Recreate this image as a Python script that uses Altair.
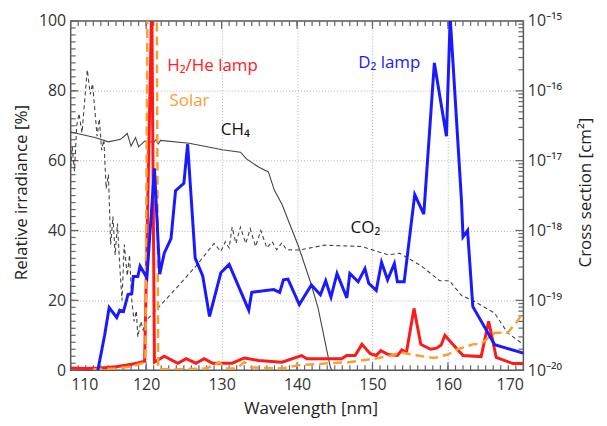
import altair as alt
import pandas as pd

# ---------------- data ----------------
# H2/He lamp (relative irradiance, %)
red_wl = [110, 112, 114, 116, 117.3, 118.8, 119.8, 120.75, 121.1, 122.4, 124.2, 125.3,
          126.6, 127.7, 128.8, 130.1, 131.4, 133.0, 134.9, 138.0, 140.6, 141.3, 145.9, 146.6,
          147.7, 148.6, 149.7, 150.5, 151.1, 152.1, 153.3, 153.9, 154.5, 155.5, 156.4, 157.7,
          158.5, 159.1, 159.6, 160.7, 162.0, 164.4, 165.4, 166.4, 168.6, 170.0]
red_val = [0.6, 0.5, 0.6, 1.0, 1.4, 2.0, 2.6, 106, 2.3, 4.0, 2.0, 3.3,
           2.0, 3.3, 2.0, 2.0, 2.0, 3.5, 2.8, 2.3, 4.2, 3.3, 3.3, 4.2,
           4.2, 7.4, 4.7, 4.2, 5.6, 4.5, 4.2, 5.8, 5.1, 17.7, 7.4, 6.0,
           6.3, 7.2, 10.0, 7.3, 4.2, 3.9, 14.0, 3.7, 1.9, 1.9]

# Solar (relative irradiance, %)
sol_wl = [113, 116, 118, 119.5, 119.9, 120.2, 121.4, 121.6, 122, 125, 128, 129.7, 130.5,
          132, 133, 134, 138, 140.2, 143.7, 146.8, 150.3, 152.5, 153.8, 154.7, 156,
          157.4, 158.2, 160, 161.3, 163.3, 164.4, 166.2, 167.9, 169.2, 170]
sol_val = [0.3, 0.5, 1.0, 2.0, 3.0, 110, 110, 0.5, 0.3, 0.3, 0.5, 2.3, 0.5,
           0.5, 2.3, 0.8, 0.5, 1.4, 1.9, 2.3, 3.3, 4.2, 5.1, 4.7, 4.2,
           3.7, 3.5, 4.5, 6.0, 7.4, 7.6, 10.7, 10.7, 14.0, 16.8]

# D2 lamp (relative irradiance, %)
d2_wl = [113.6, 114.5, 115.1, 116.1, 116.5, 117.0, 117.6, 118.1, 118.3, 118.9, 119.2, 120.1,
         121.1, 121.8, 122.4, 123.3, 123.9, 125.0, 125.5, 126.5, 127.5, 128.4, 129.9, 131.0,
         133.6, 134.0, 136.9, 137.7, 138.2, 138.8, 140.3, 141.9, 143.1, 143.8, 144.5, 145.3,
         146.6, 147.0, 148.1, 149.0, 149.5, 150.5, 151.2, 152.0, 152.9, 153.3, 154.2, 155.6,
         156.8, 158.2, 159.8, 160.3, 161.8, 162.0, 162.6, 163.3, 166.2, 170.0]
d2_val = [0, 10, 17.9, 15.1, 17.2, 16.8, 21.7, 21.9, 26.8, 26.8, 29.8, 26.5,
          57.8, 27.5, 33.5, 37.7, 51.4, 53.5, 64.7, 32.1, 27.0, 15.4, 27.9, 30.3,
          17.2, 22.3, 23.1, 22.3, 25.9, 26.1, 18.8, 24.4, 21.6, 25.6, 20.9, 27.7,
          20.7, 27.7, 25.3, 29.1, 24.9, 22.8, 30.9, 25.9, 30.5, 25.3, 25.3, 50.3,
          44.7, 88.0, 67.0, 101.0, 48.4, 38.2, 40.0, 18.2, 7.3, 4.9]

# CH4 cross section (cm^2)
ch4_wl = [110, 113.2, 115.0, 116.6, 117.5, 118.0, 118.6, 119.0, 119.8, 121.0, 121.3, 121.6,
          121.9, 125.7, 130.1, 132.5, 133.3, 134.9, 136.2, 137.0, 138.0, 140.2, 141.8, 142.8,
          144.4, 144.6]
ch4_sig = [2.57e-17, 2.14e-17, 1.86e-17, 2.02e-17, 2.45e-17, 1.62e-17, 2.14e-17, 1.58e-17,
           1.91e-17, 1.82e-17, 2.0e-17, 1.74e-17, 1.95e-17, 1.78e-17, 1.43e-17, 1.32e-17,
           1.06e-17, 8.1e-18, 6.9e-18, 3.76e-18, 2.37e-18, 5.9e-19, 1.8e-19, 7.7e-20,
           1.12e-20, 1.0e-20]

# CO2 cross section (cm^2)
co2_wl = [110.0, 110.2, 110.5, 110.8, 111.1, 111.5, 112.2, 112.6, 112.9, 113.5, 113.8, 114.1,
          114.4, 114.7, 115.0, 115.3, 115.6, 115.9, 116.2, 116.5, 116.8, 117.1, 117.5, 117.8,
          118.1, 118.4, 118.7, 118.9, 119.3, 119.6, 119.9, 121.3, 123.9, 126.6, 129.0, 129.9,
          130.5, 131.0, 131.4, 131.9, 132.5, 133.2, 133.8, 134.5, 135.2, 136.0, 136.7, 137.3,
          138.0, 138.6, 140.2, 143.7, 148.6, 152.1, 153.6, 156.5, 158.9, 160.2, 161.8, 163.3,
          166.2, 167.9, 170.0]
co2_sig = [7.94e-18, 1.58e-17, 7.08e-18, 3.16e-17, 4.73e-17, 2.51e-17, 2.0e-16, 8.91e-17,
           1.26e-16, 2.24e-17, 3.98e-17, 1.41e-17, 2.0e-17, 3.98e-18, 6.31e-18, 6.31e-19,
           1.58e-18, 4.47e-19, 1.26e-18, 3.16e-19, 1.0e-19, 6.31e-19, 2.24e-19, 4.47e-19,
           1.0e-19, 5.01e-20, 7.08e-20, 2.99e-20, 5.01e-20, 3.76e-20, 5.01e-20, 7.24e-20,
           1.46e-19, 3.09e-19, 6.53e-19, 5.01e-19, 6.92e-19, 5.62e-19, 1.12e-18, 6.53e-19,
           1.12e-18, 6.53e-19, 1.06e-18, 5.89e-19, 1.0e-18, 5.62e-19, 6.92e-19, 5.31e-19,
           6.68e-19, 5.31e-19, 5.25e-19, 6.17e-19, 5.89e-19, 4.47e-19, 4.73e-19, 3.09e-19,
           1.91e-19, 1.91e-19, 1.17e-19, 1.0e-19, 6.53e-20, 3.43e-20, 2.34e-20]

# labels inside the plot
ann_text = ["H\u2082/He lamp", "Solar", "CH\u2084", "D\u2082 lamp", "CO\u2082"]
ann_wl = [122.8, 123.1, 129.9, 148.1, 147.1]
ann_val = [87.2, 77.2, 68.7, 88.0, 40.7]
ann_color = ["#ff2020", "#f7a035", "#111111", "#1a1aff", "#111111"]

# axis ticks
x_major = [110, 120, 130, 140, 150, 160, 170]
x_minor = list(range(111, 170))
x_grid = [120, 130, 140, 150, 160]
y_major = [0, 20, 40, 60, 80, 100]
y_minor = list(range(2, 100, 2))
y_grid = [20, 40, 60, 80]
s_major = [1e-20, 1e-19, 1e-18, 1e-17, 1e-16, 1e-15]
s_labels = ["10\u207b\u00b2\u2070", "10\u207b\u00b9\u2079", "10\u207b\u00b9\u2078",
            "10\u207b\u00b9\u2077", "10\u207b\u00b9\u2076", "10\u207b\u00b9\u2075"]
s_minor = [k * m for m in s_major[:-1] for k in range(2, 10)]

FONT = "Open Sans"
X_DOM = [110, 170]
Y_DOM = [0, 100]
S_DOM = [1e-20, 1e-15]
W, H = 455, 351
TICK = "#666666"
MAJ, MIN = 8, 5


def frame(x, y, xn, yn):
    return pd.DataFrame({xn: x, yn: y})


def xs():
    return alt.Scale(domain=X_DOM, nice=False, zero=False)


def ys():
    return alt.Scale(domain=Y_DOM, nice=False, zero=False)


def ss():
    return alt.Scale(type="log", domain=S_DOM, nice=False)


# label expression for the log axis
expr = "'" + s_labels[-1] + "'"
for val, lab in reversed(list(zip(s_major[:-1], s_labels[:-1]))):
    expr = f"datum.value < {val * 3:.3g} ? '{lab}' : " + expr

X_NOAX = alt.X("wl:Q", scale=xs(), axis=None)
Y_NOAX = alt.Y("v:Q", scale=ys(), axis=None)
S_NOAX = alt.Y("s:Q", scale=ss(), axis=None)

# grid only
gridE = alt.Chart(frame(d2_wl, d2_val, "wl", "v")).mark_line(opacity=0).encode(
    x=alt.X("wl:Q", scale=xs(), axis=alt.Axis(orient="bottom", values=x_grid, ticks=False, labels=False,
                                                 domain=False, grid=True, gridDash=[1, 2],
                                                 gridColor="#b0b0b0", title=None)),
    y=alt.Y("v:Q", scale=ys(), axis=alt.Axis(orient="left", values=y_grid, ticks=False, labels=False,
                                                domain=False, grid=True, gridDash=[1, 2],
                                                gridColor="#b0b0b0", title=None)))

# cross sections (right axis carries labels and title)
ch4 = alt.Chart(frame(ch4_wl, ch4_sig, "wl", "s")).mark_line(
    color="#444444", strokeWidth=1.1, clip=True).encode(
    x=X_NOAX,
    y=alt.Y("s:Q", scale=ss(), axis=alt.Axis(orient="right", values=s_major, ticks=False, domain=False,
                                                grid=False, labelPadding=4, labelExpr=expr,
                                                title="Cross section [cm\u00b2]", titleAngle=270,
                                                titleAlign="center", titleBaseline="middle",
                                                titleX=62, titleY=172)))
co2 = alt.Chart(frame(co2_wl, co2_sig, "wl", "s")).mark_line(
    color="#444444", strokeWidth=1.1, strokeDash=[4, 3], clip=True).encode(x=X_NOAX, y=S_NOAX)

# lamps (left and bottom axes carry labels and titles)
red = alt.Chart(frame(red_wl, red_val, "wl", "v")).mark_line(
    color="#ff1a1a", strokeWidth=3, clip=True).encode(
    x=alt.X("wl:Q", scale=xs(), axis=alt.Axis(orient="bottom", values=x_major, ticks=False, domain=False,
                                                 grid=False, labelPadding=6, format="d",
                                                 title="Wavelength [nm]", titleAlign="center",
                                                 titleBaseline="middle", titleX=241, titleY=39)),
    y=alt.Y("v:Q", scale=ys(), axis=alt.Axis(orient="left", values=y_major, ticks=False, domain=False,
                                                grid=False, labelPadding=5,
                                                title="Relative irradiance [%]", titleAngle=270,
                                                titleAlign="center", titleBaseline="middle",
                                                titleX=-49, titleY=172)))
solar = alt.Chart(frame(sol_wl, sol_val, "wl", "v")).mark_line(
    color="#f7a035", strokeWidth=2.5, strokeDash=[9, 5], clip=True).encode(x=X_NOAX, y=Y_NOAX)
blue = alt.Chart(frame(d2_wl, d2_val, "wl", "v")).mark_line(
    color="#1a1aff", strokeWidth=3, clip=True).encode(x=X_NOAX, y=Y_NOAX)
ann = alt.Chart(pd.DataFrame({"wl": ann_wl, "v": ann_val, "t": ann_text, "c": ann_color})).mark_text(
    align="left", baseline="middle", font=FONT, fontSize=17).encode(
    x=X_NOAX, y=Y_NOAX, text="t:N", color=alt.Color("c:N", scale=None))


# inward tick marks, placed by the same scales
def xticks(vals, at_top, length):
    y0 = 0 if at_top else H
    y1 = length if at_top else H - length
    return alt.Chart(pd.DataFrame({"t": vals})).mark_rule(color=TICK, strokeWidth=1.2).encode(
        x=alt.X("t:Q", scale=xs(), axis=None), y=alt.value(y0), y2=alt.value(y1))


def yticks(vals, scale, at_right, length):
    x0 = W if at_right else 0
    x1 = W - length if at_right else length
    return alt.Chart(pd.DataFrame({"t": vals})).mark_rule(color=TICK, strokeWidth=1.2).encode(
        y=alt.Y("t:Q", scale=scale, axis=None), x=alt.value(x0), x2=alt.value(x1))


ticks = [
    xticks(x_major, False, MAJ), xticks(x_minor, False, MIN),
    xticks(x_major, True, MAJ), xticks(x_minor, True, MIN),
    yticks(y_major, ys(), False, MAJ), yticks(y_minor, ys(), False, MIN),
    yticks(s_major, ss(), True, MAJ), yticks(s_minor, ss(), True, MIN),
]

chart = alt.layer(gridE, *ticks, ch4, co2, red, solar, blue, ann).resolve_scale(
    x="shared", y="independent").resolve_axis(x="independent", y="independent").properties(
    width=W, height=H, autosize=alt.AutoSizeParams(type="none"),
    padding={"left": 63, "top": 12, "right": 76, "bottom": 48},
    background="white").configure_view(stroke="#555555", strokeWidth=1.5).configure_axis(
    labelFont=FONT, labelFontSize=16, labelColor="#333333", titleFont=FONT, titleFontSize=17,
    titleColor="#222222", titleFontWeight="normal")

chart.save("out.html", embed_options={"renderer": "svg", "actions": False})
